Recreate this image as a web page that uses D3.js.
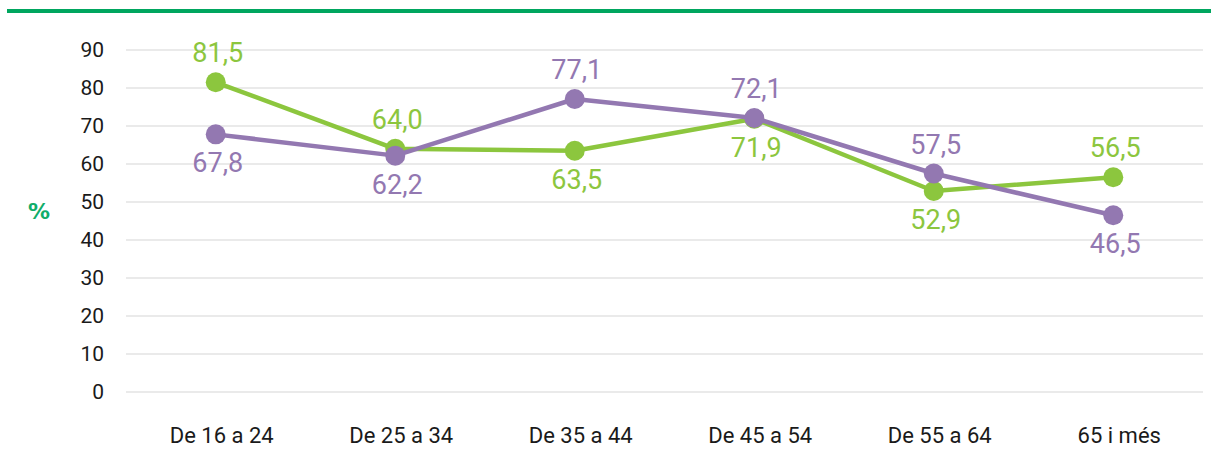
<!DOCTYPE html>
<html>
<head>
<meta charset="utf-8">
<script src="https://cdn.jsdelivr.net/npm/d3@7"></script>
<style>
  html, body { margin: 0; padding: 0; background: #fff; }
  svg { display: block; font-family: Roboto, "DejaVu Sans", sans-serif; }
</style>
</head>
<body>
<svg id="chart" width="1211" height="465"></svg>
<script>
// Age groups and the two series (percent)
const categories = ["De 16 a 24", "De 25 a 34", "De 35 a 44", "De 45 a 54", "De 55 a 64", "65 i més"];
const greenValues = [81.5, 64.0, 63.5, 71.9, 52.9, 56.5];
const purpleValues = [67.8, 62.2, 77.1, 72.1, 57.5, 46.5];
const greenLabelSide = ["above", "above", "below", "below", "below", "above"];
const purpleLabelSide = ["below", "below", "above", "above", "above", "below"];
const yTicks = [0, 10, 20, 30, 40, 50, 60, 70, 80, 90];

const svg = d3.select("#chart");

// Header rule
svg.append("rect").attr("x", 7).attr("y", 9).attr("width", 1204).attr("height", 4).attr("fill", "#00a65f");

const x = d3.scaleBand().domain(categories).range([126, 1203]);
const y = d3.scaleLinear().domain([0, 90]).range([392, 50]);

// Gridlines
svg.append("g").selectAll("line").data(yTicks).join("line")
  .attr("x1", 126).attr("x2", 1203)
  .attr("y1", d => y(d)).attr("y2", d => y(d))
  .attr("stroke", "#e3e3e3").attr("stroke-width", 1.5);

// Y axis labels
const yAxis = svg.append("g").attr("transform", "translate(104,0)")
  .call(d3.axisLeft(y).tickValues(yTicks).tickSize(0).tickPadding(0));
yAxis.select(".domain").remove();
yAxis.selectAll("text").style("font-size", "21px").attr("fill", "#1a1a1a")
  .style("font-family", "Roboto, sans-serif");

// X axis labels
const xAxis = svg.append("g").attr("transform", "translate(6,427)")
  .call(d3.axisBottom(x).tickSize(0).tickPadding(0));
xAxis.select(".domain").remove();
xAxis.selectAll("text").style("font-size", "22px").attr("fill", "#1a1a1a")
  .style("font-family", "Roboto, sans-serif");

// Unit label
svg.append("text").attr("x", 39).attr("y", 219).attr("text-anchor", "middle")
  .style("font-family", "'DejaVu Sans', sans-serif")
  .style("font-size", "22px").style("font-weight", "bold").attr("fill", "#10ad6a").text("%");

const cx = d => x(d) + x.bandwidth() / 2;

function drawSeries(values, sides, color) {
  const pts = categories.map((c, i) => ({ c, v: values[i], side: sides[i] }));
  const line = d3.line().x(d => cx(d.c)).y(d => y(d.v));
  svg.append("path").datum(pts).attr("d", line)
    .attr("fill", "none").attr("stroke", color).attr("stroke-width", 4.5).attr("stroke-linejoin", "round");
  svg.append("g").selectAll("circle").data(pts).join("circle")
    .attr("cx", d => cx(d.c)).attr("cy", d => y(d.v)).attr("r", 10).attr("fill", color);
  return pts;
}

function drawLabels(pts, color) {
  svg.append("g").selectAll("text").data(pts).join("text")
    .attr("x", d => cx(d.c) + 2)
    .attr("y", d => d.side === "above" ? y(d.v) - 20 : y(d.v) + 38)
    .attr("text-anchor", "middle").style("font-size", "27px").attr("fill", color)
    .text(d => d3.format(".1f")(d.v).replace(".", ","));
}

const green = "#8cc63e";
const purple = "#9378b1";
const gp = drawSeries(greenValues, greenLabelSide, green);
const pp = drawSeries(purpleValues, purpleLabelSide, purple);
drawLabels(gp, green);
drawLabels(pp, purple);
</script>
</body>
</html>
